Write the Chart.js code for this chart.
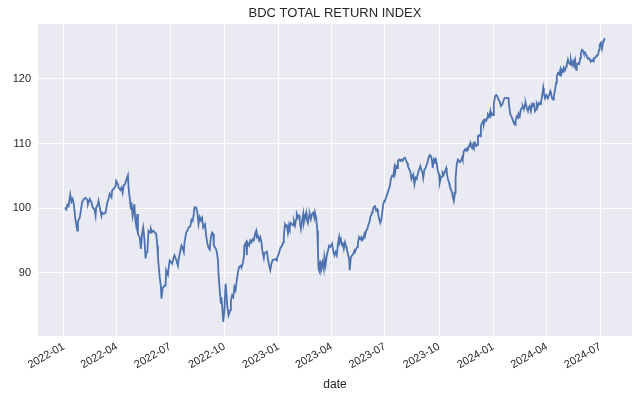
<!DOCTYPE html>
<html>
<head>
<meta charset="utf-8">
<script src="https://cdn.jsdelivr.net/npm/chart.js@4.4.0/dist/chart.umd.min.js"></script>
<style>
  body { margin: 0; background: #ffffff; }
  #wrap { width: 640px; height: 401px; }
</style>
</head>
<body>
<div id="wrap"><canvas id="bdcChart" width="640" height="401"></canvas></div>
<script>
// BDC total return index
const dates = [
  '2022-01-03','2022-01-05','2022-01-07','2022-01-09','2022-01-12','2022-01-14','2022-01-16','2022-01-18','2022-01-20','2022-01-22',
  '2022-01-24','2022-01-25','2022-01-28','2022-01-30','2022-02-01','2022-02-04','2022-02-07','2022-02-10','2022-02-11','2022-02-14',
  '2022-02-17','2022-02-19','2022-02-22','2022-02-24','2022-02-25','2022-02-28','2022-03-01','2022-03-03','2022-03-06','2022-03-07',
  '2022-03-10','2022-03-13','2022-03-16','2022-03-18','2022-03-20','2022-03-23','2022-03-24','2022-03-27','2022-03-30','2022-03-31',
  '2022-04-03','2022-04-04','2022-04-07','2022-04-09','2022-04-11','2022-04-13','2022-04-15','2022-04-17','2022-04-20','2022-04-21',
  '2022-04-23','2022-04-25','2022-04-26','2022-04-28','2022-05-01','2022-05-02','2022-05-04','2022-05-06','2022-05-07','2022-05-10',
  '2022-05-12','2022-05-14','2022-05-16','2022-05-18','2022-05-20','2022-05-21','2022-05-23','2022-05-25','2022-05-28','2022-05-29',
  '2022-05-31','2022-06-02','2022-06-05','2022-06-07','2022-06-09','2022-06-10','2022-06-13','2022-06-15','2022-06-16','2022-06-18',
  '2022-06-21','2022-06-23','2022-06-24','2022-06-27','2022-06-28','2022-06-30','2022-07-02','2022-07-04','2022-07-06','2022-07-08',
  '2022-07-10','2022-07-11','2022-07-14','2022-07-15','2022-07-18','2022-07-20','2022-07-22','2022-07-24','2022-07-25','2022-07-28',
  '2022-07-30','2022-08-01','2022-08-04','2022-08-06','2022-08-08','2022-08-10','2022-08-11','2022-08-14','2022-08-16','2022-08-18',
  '2022-08-20','2022-08-22','2022-08-24','2022-08-26','2022-08-29','2022-08-31','2022-09-02','2022-09-04','2022-09-06','2022-09-08',
  '2022-09-10','2022-09-12','2022-09-13','2022-09-16','2022-09-18','2022-09-20','2022-09-21','2022-09-23','2022-09-25','2022-09-26',
  '2022-09-28','2022-09-29','2022-10-01','2022-10-03','2022-10-04','2022-10-06','2022-10-08','2022-10-11','2022-10-12','2022-10-14',
  '2022-10-16','2022-10-18','2022-10-20','2022-10-22','2022-10-24','2022-10-26','2022-10-29','2022-10-30','2022-11-01','2022-11-03',
  '2022-11-04','2022-11-07','2022-11-08','2022-11-09','2022-11-12','2022-11-14','2022-11-16','2022-11-18','2022-11-20','2022-11-22',
  '2022-11-24','2022-11-25','2022-11-27','2022-11-29','2022-12-01','2022-12-03','2022-12-04','2022-12-07','2022-12-08','2022-12-11',
  '2022-12-12','2022-12-14','2022-12-16','2022-12-18','2022-12-20','2022-12-22','2022-12-24','2022-12-27','2022-12-29','2022-12-30',
  '2023-01-02','2023-01-04','2023-01-07','2023-01-09','2023-01-10','2023-01-12','2023-01-14','2023-01-15','2023-01-17','2023-01-19',
  '2023-01-20','2023-01-22','2023-01-24','2023-01-26','2023-01-27','2023-01-29','2023-01-31','2023-02-01','2023-02-03','2023-02-05',
  '2023-02-06','2023-02-08','2023-02-10','2023-02-12','2023-02-13','2023-02-15','2023-02-17','2023-02-18','2023-02-20','2023-02-22',
  '2023-02-23','2023-02-25','2023-02-27','2023-03-01','2023-03-03','2023-03-04','2023-03-06','2023-03-08','2023-03-09','2023-03-10',
  '2023-03-12','2023-03-13','2023-03-15','2023-03-17','2023-03-19','2023-03-20','2023-03-22','2023-03-24','2023-03-26','2023-03-28',
  '2023-03-30','2023-04-02','2023-04-04','2023-04-06','2023-04-08','2023-04-10','2023-04-12','2023-04-14','2023-04-15','2023-04-17',
  '2023-04-19','2023-04-20','2023-04-22','2023-04-24','2023-04-26','2023-04-27','2023-04-29','2023-05-01','2023-05-02','2023-05-04',
  '2023-05-06','2023-05-08','2023-05-10','2023-05-11','2023-05-13','2023-05-15','2023-05-16','2023-05-18','2023-05-20','2023-05-22',
  '2023-05-23','2023-05-25','2023-05-27','2023-05-28','2023-05-30','2023-06-01','2023-06-03','2023-06-05','2023-06-06','2023-06-09',
  '2023-06-10','2023-06-12','2023-06-14','2023-06-16','2023-06-18','2023-06-19','2023-06-21','2023-06-23','2023-06-25','2023-06-26',
  '2023-06-28','2023-06-30','2023-07-01','2023-07-03','2023-07-05','2023-07-07','2023-07-09','2023-07-11','2023-07-13','2023-07-15',
  '2023-07-17','2023-07-18','2023-07-20','2023-07-22','2023-07-23','2023-07-25','2023-07-27','2023-07-29','2023-07-31','2023-08-02',
  '2023-08-04','2023-08-06','2023-08-08','2023-08-09','2023-08-11','2023-08-13','2023-08-15','2023-08-17','2023-08-18','2023-08-20',
  '2023-08-22','2023-08-24','2023-08-25','2023-08-27','2023-08-29','2023-08-30','2023-09-01','2023-09-03','2023-09-04','2023-09-06',
  '2023-09-08','2023-09-09','2023-09-11','2023-09-13','2023-09-15','2023-09-17','2023-09-19','2023-09-20','2023-09-22','2023-09-24',
  '2023-09-25','2023-09-27','2023-09-29','2023-10-01','2023-10-02','2023-10-04','2023-10-06','2023-10-07','2023-10-09','2023-10-11',
  '2023-10-13','2023-10-14','2023-10-16','2023-10-18','2023-10-19','2023-10-21','2023-10-23','2023-10-24','2023-10-26','2023-10-28',
  '2023-10-29','2023-10-31','2023-11-02','2023-11-04','2023-11-05','2023-11-07','2023-11-09','2023-11-10','2023-11-12','2023-11-14',
  '2023-11-16','2023-11-18','2023-11-19','2023-11-21','2023-11-23','2023-11-24','2023-11-26','2023-11-28','2023-11-29','2023-12-01',
  '2023-12-03','2023-12-05','2023-12-06','2023-12-08','2023-12-10','2023-12-11','2023-12-13','2023-12-15','2023-12-16','2023-12-18',
  '2023-12-20','2023-12-22','2023-12-23','2023-12-25','2023-12-27','2023-12-28','2023-12-30','2024-01-01','2024-01-02','2024-01-04',
  '2024-01-06','2024-01-08','2024-01-10','2024-01-12','2024-01-14','2024-01-16','2024-01-18','2024-01-20','2024-01-22','2024-01-25',
  '2024-01-27','2024-01-28','2024-01-30','2024-02-01','2024-02-03','2024-02-05','2024-02-07','2024-02-08','2024-02-10','2024-02-12',
  '2024-02-13','2024-02-15','2024-02-17','2024-02-19','2024-02-20','2024-02-22','2024-02-24','2024-02-25','2024-02-27','2024-02-29',
  '2024-03-01','2024-03-03','2024-03-05','2024-03-07','2024-03-09','2024-03-10','2024-03-12','2024-03-14','2024-03-15','2024-03-17',
  '2024-03-19','2024-03-21','2024-03-22','2024-03-24','2024-03-26','2024-03-27','2024-03-29','2024-03-31','2024-04-01','2024-04-03',
  '2024-04-05','2024-04-07','2024-04-08','2024-04-10','2024-04-12','2024-04-13','2024-04-15','2024-04-17','2024-04-18','2024-04-20',
  '2024-04-22','2024-04-24','2024-04-25','2024-04-27','2024-04-29','2024-04-30','2024-05-02','2024-05-04','2024-05-05','2024-05-07',
  '2024-05-09','2024-05-11','2024-05-12','2024-05-14','2024-05-16','2024-05-17','2024-05-19','2024-05-21','2024-05-22','2024-05-24',
  '2024-05-26','2024-05-28','2024-05-29','2024-05-31','2024-06-02','2024-06-03','2024-06-05','2024-06-07','2024-06-08','2024-06-10',
  '2024-06-12','2024-06-13','2024-06-15','2024-06-17','2024-06-19','2024-06-20','2024-06-22','2024-06-24','2024-06-25','2024-06-27',
  '2024-06-29','2024-06-30','2024-07-02','2024-07-04','2024-07-06','2024-07-07','2024-07-09'
];

const values = [
  100.1, 99.8, 100.5, 100.3, 102.1, 101.0, 101.4, 100.6, 98.8, 97.5,
  96.5, 97.9, 98.5, 99.6, 100.9, 101.4, 101.6, 101.2, 100.6, 101.4,
  100.9, 100.1, 99.8, 98.8, 100.1, 100.6, 101.1, 100.1, 98.8, 99.3,
  99.1, 99.3, 100.9, 101.4, 102.2, 101.7, 102.7, 103.0, 103.4, 104.2,
  103.7, 103.2, 102.8, 103.2, 102.4, 103.6, 103.7, 104.3, 105.1, 103.2,
  101.6, 99.8, 100.9, 98.8, 100.6, 98.6, 97.3, 99.1, 96.0, 95.5,
  93.7, 96.0, 97.0, 95.2, 92.2, 93.0, 93.2, 96.5, 96.2, 96.8,
  96.3, 96.5, 96.2, 96.0, 94.2, 92.4, 89.3, 87.8, 86.0, 87.6,
  88.0, 88.0, 90.4, 89.7, 90.6, 91.9, 91.7, 91.4, 92.1, 92.7,
  92.3, 92.0, 91.1, 92.0, 93.4, 94.2, 93.8, 93.2, 94.6, 96.2,
  96.5, 97.0, 97.2, 98.2, 98.0, 99.1, 100.1, 100.1, 99.3, 97.5,
  98.6, 98.1, 98.5, 97.0, 97.5, 95.7, 94.5, 93.9, 93.6, 95.5,
  96.2, 96.0, 94.2, 93.8, 93.3, 91.9, 89.8, 87.3, 85.2, 86.2,
  83.7, 82.4, 84.2, 88.3, 87.3, 84.7, 83.4, 84.2, 85.7, 86.5,
  86.2, 87.8, 87.3, 88.8, 90.1, 90.9, 91.1, 90.8, 91.4, 92.4,
  94.2, 94.7, 92.7, 94.7, 94.2, 95.0, 94.7, 95.2, 95.0, 96.0,
  96.5, 95.5, 95.7, 95.0, 95.5, 94.7, 93.7, 92.3, 93.0, 93.2,
  93.4, 92.1, 91.1, 90.4, 91.4, 92.0, 92.0, 92.1, 91.9, 92.4,
  93.1, 93.8, 94.2, 94.7, 95.7, 97.5, 97.1, 97.5, 96.2, 97.4,
  97.0, 97.7, 97.5, 97.3, 98.0, 97.3, 98.3, 99.1, 98.6, 98.8,
  98.0, 96.8, 98.0, 99.1, 97.7, 98.5, 99.3, 98.3, 97.7, 98.8,
  99.1, 98.3, 99.1, 99.3, 98.5, 99.3, 98.5, 96.5, 93.4, 90.6,
  90.1, 91.9, 90.6, 91.6, 90.6, 92.4, 91.2, 92.7, 93.4, 94.2,
  94.0, 94.5, 93.4, 92.7, 93.2, 92.7, 94.5, 95.5, 94.7, 95.2,
  94.2, 94.7, 93.7, 94.7, 94.0, 93.7, 92.9, 92.1, 90.4, 92.4,
  92.7, 92.9, 93.4, 93.2, 93.7, 94.0, 94.7, 95.5, 95.2, 95.5,
  95.0, 95.2, 96.0, 95.7, 96.5, 96.8, 97.5, 98.0, 98.6, 99.3,
  99.6, 100.2, 100.3, 99.6, 99.8, 99.3, 98.3, 97.7, 98.3, 99.1,
  100.6, 101.1, 101.2, 101.7, 102.2, 102.8, 103.3, 104.5, 105.0, 104.9,
  106.2, 105.4, 106.5, 106.2, 107.3, 107.5, 107.3, 107.5, 107.3, 107.7,
  107.8, 107.3, 107.0, 106.5, 106.0, 105.7, 104.5, 105.0, 105.2, 103.7,
  104.7, 104.5, 105.0, 105.7, 106.2, 106.5, 105.9, 105.4, 104.7, 106.0,
  106.2, 106.5, 107.0, 107.8, 108.2, 108.1, 107.3, 106.2, 107.5, 107.0,
  107.8, 106.8, 105.7, 105.2, 103.9, 104.7, 104.9, 105.5, 105.2, 105.7,
  106.2, 105.4, 104.5, 103.9, 103.4, 102.9, 102.4, 101.9, 101.1, 102.4,
  104.7, 106.8, 107.5, 107.3, 107.2, 107.3, 107.8, 107.5, 108.8, 109.1,
  108.9, 109.3, 109.2, 109.6, 110.1, 109.6, 109.3, 109.9, 109.6, 110.1,
  109.6, 109.8, 111.1, 111.3, 111.1, 112.7, 113.2, 113.5, 113.0, 113.7,
  113.5, 114.0, 114.5, 114.2, 115.0, 114.3, 114.6, 114.4, 116.0, 117.3,
  117.5, 117.3, 116.8, 116.5, 115.8, 116.0, 116.5, 117.0, 117.1, 117.0,
  117.0, 115.8, 114.5, 114.2, 113.7, 113.2, 112.9, 113.5, 114.2, 114.0,
  114.6, 114.2, 115.3, 115.5, 115.8, 115.3, 116.1, 116.3, 115.5, 115.0,
  115.5, 115.8, 115.0, 116.1, 115.8, 116.3, 115.0, 115.3, 116.2, 115.8,
  116.3, 116.1, 116.3, 117.3, 118.6, 117.8, 117.0, 117.5, 117.3, 117.0,
  117.5, 118.1, 117.8, 117.0, 116.8, 117.3, 118.3, 119.4, 120.4, 120.9,
  120.7, 121.4, 120.4, 121.4, 121.1, 121.7, 121.4, 121.9, 122.2, 123.0,
  122.4, 122.2, 123.0, 122.2, 122.7, 122.4, 123.0, 121.4, 122.2, 122.4,
  122.3, 123.2, 124.0, 124.5, 124.3, 124.0, 124.1, 123.7, 123.5, 123.1,
  123.2, 123.0, 122.7, 122.9, 122.7, 123.2, 123.2, 123.5, 123.6, 123.7,
  124.5, 125.3, 125.6, 124.7, 125.8, 126.0, 126.3
];

const xTickDates = ['2022-01-01', '2022-04-01', '2022-07-01', '2022-10-01', '2023-01-01', '2023-04-01',
  '2023-07-01', '2023-10-01', '2024-01-01', '2024-04-01', '2024-07-01'];
const yTicks = [90, 100, 110, 120];

const FONT = "'Liberation Sans', Arial, sans-serif";
const TEXT = '#262626';

// matplotlib style 5% margins around the data
function paddedRange(arr) {
  const lo = Math.min(...arr), hi = Math.max(...arr);
  const m = (hi - lo) * 0.05;
  return [lo - m, hi + m];
}

const plotBackground = {
  id: 'plotBackground',
  beforeDraw(chart) {
    const { ctx, chartArea: a } = chart;
    ctx.save();
    ctx.fillStyle = '#ffffff';
    ctx.fillRect(0, 0, chart.width, chart.height);
    ctx.fillStyle = '#eaeaf2';
    ctx.fillRect(a.left, a.top, a.right - a.left, a.bottom - a.top);
    ctx.restore();
  }
};

function createChart() {
  const xs = dates.map(d => Date.parse(d));
  const [xMin, xMax] = paddedRange(xs);
  const [yMin, yMax] = paddedRange(values);

  const ctx = document.getElementById('bdcChart').getContext('2d');
  new Chart(ctx, {
    type: 'line',
    data: {
      datasets: [{
        data: xs.map((x, i) => ({ x: x, y: values[i] })),
        borderColor: '#4c72b0',
        borderWidth: 1.8,
        pointRadius: 0,
        tension: 0,
        fill: false
      }]
    },
    options: {
      responsive: false,
      animation: false,
      layout: { padding: { left: 0, right: 8, top: 0, bottom: 0 } },
      plugins: {
        legend: { display: false },
        tooltip: { enabled: false },
        title: {
          display: true,
          text: 'BDC TOTAL RETURN INDEX',
          fullSize: false,
          color: TEXT,
          font: { family: FONT, size: 13, weight: 'normal' },
          padding: { top: 6, bottom: 2.4 }
        }
      },
      scales: {
        x: {
          type: 'linear',
          min: xMin,
          max: xMax,
          afterBuildTicks: scale => {
            scale.ticks = xTickDates.map(d => ({ value: Date.parse(d) }));
          },
          afterFit: scale => { scale.height = 65; },
          ticks: {
            autoSkip: false,
            minRotation: 30,
            maxRotation: 30,
            padding: 4,
            color: TEXT,
            font: { family: FONT, size: 11 },
            callback: v => new Date(v).toISOString().slice(0, 7)
          },
          grid: { color: '#ffffff', lineWidth: 1, drawTicks: false },
          border: { display: false },
          title: {
            display: true,
            text: 'date',
            color: TEXT,
            font: { family: FONT, size: 12 },
            padding: { top: 4, bottom: 9 }
          }
        },
        y: {
          min: yMin,
          max: yMax,
          afterBuildTicks: scale => {
            scale.ticks = yTicks.map(v => ({ value: v }));
          },
          afterFit: scale => { scale.width = 38; },
          ticks: {
            padding: 7,
            color: TEXT,
            font: { family: FONT, size: 11 }
          },
          grid: { color: '#ffffff', lineWidth: 1, drawTicks: false },
          border: { display: false }
        }
      }
    },
    plugins: [plotBackground]
  });
}

window.onload = function() {
  createChart();
};
</script>
</body>
</html>
